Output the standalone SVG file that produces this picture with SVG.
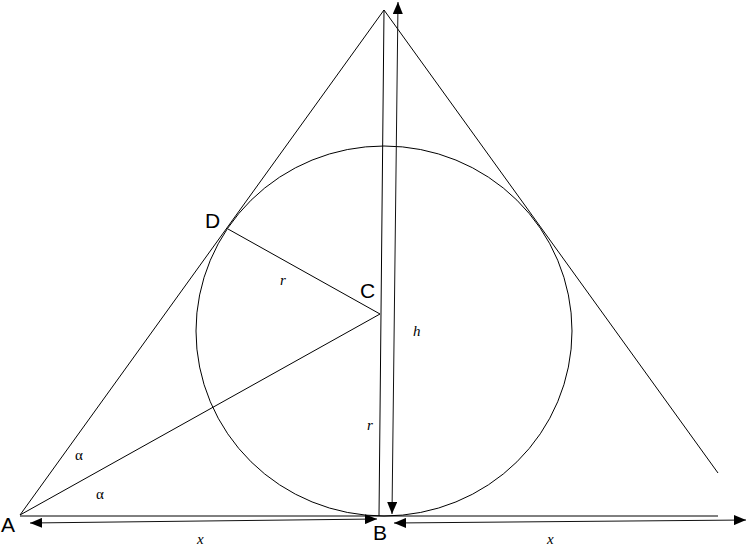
<svg xmlns="http://www.w3.org/2000/svg" width="748" height="547" viewBox="0 0 748 547">
<style>
.ln{stroke:#000;stroke-width:1;fill:none}
.dim{stroke:#111;stroke-width:1;fill:none;marker-start:url(#ah);marker-end:url(#ah)}
.pt{font-family:"Liberation Sans",Arial,sans-serif;font-size:21px;fill:#000}
.var{font-family:"Liberation Serif","Times New Roman",serif;font-style:italic;font-size:15px;fill:#000}
.gr{font-family:"Liberation Serif","Times New Roman",serif;font-size:15px;fill:#000}
</style>
<defs>
<marker id="ah" viewBox="0 0 12 10" refX="12" refY="5" markerWidth="12" markerHeight="10" markerUnits="userSpaceOnUse" orient="auto-start-reverse">
<path d="M0,0 L12,5 L0,10 Z" fill="#000"/>
</marker>
</defs>
<rect width="748" height="547" fill="#fff"/>
<g id="connectors">
<path class="ln" d="M20,515 L384,10 L718,473"/>
<line class="ln" x1="20" y1="516" x2="718" y2="516"/>
<ellipse class="ln" cx="384" cy="331" rx="188" ry="185"/>
<line class="ln" x1="384" y1="10" x2="379" y2="516"/>
<line class="ln" x1="228" y1="229" x2="380" y2="314"/>
<line class="ln" x1="20" y1="515" x2="380" y2="314"/>
<line class="dim" x1="392" y1="514" x2="398" y2="2"/>
<line class="dim" x1="30" y1="523" x2="377" y2="519"/>
<line class="dim" x1="394" y1="523" x2="746" y2="520"/>
</g>
<g id="A"><text class="pt" x="1" y="532">A</text></g>
<g id="B"><text class="pt" x="373" y="540">B</text></g>
<g id="C"><text class="pt" x="360" y="298">C</text></g>
<g id="D"><text class="pt" x="205" y="228">D</text></g>
<g id="labels">
<text class="var" x="280" y="285">r</text>
<text class="var" x="413" y="336">h</text>
<text class="var" x="367" y="430">r</text>
<text class="var" x="197" y="544">x</text>
<text class="var" x="547" y="544">x</text>
<text class="gr" x="75" y="460">α</text>
<text class="gr" x="96" y="499">α</text>
</g>
</svg>
